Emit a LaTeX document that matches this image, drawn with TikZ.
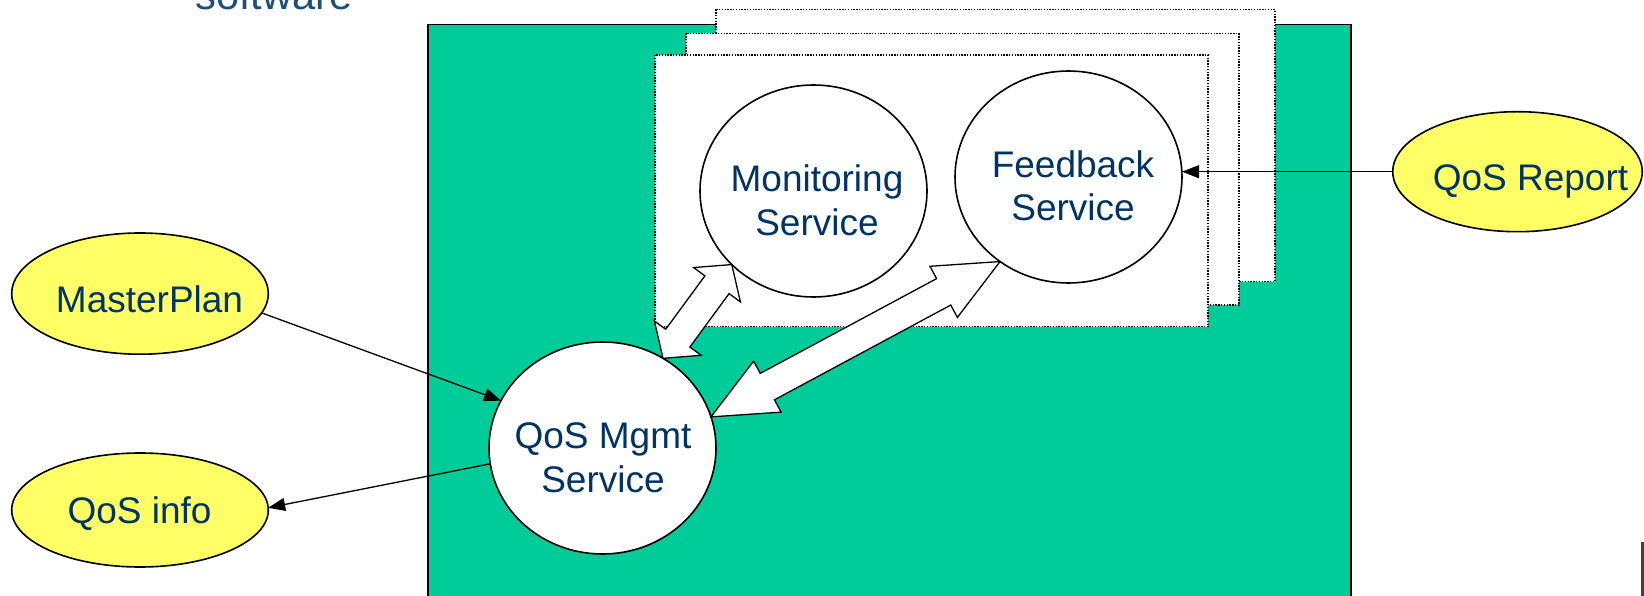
\documentclass[tikz,border=0pt]{standalone}
\usepackage{fontspec}
\setmainfont{Liberation Sans}
\usetikzlibrary{calc,arrows.meta,shapes.geometric}
\definecolor{bggreen}{HTML}{00CC99}
\definecolor{ylw}{HTML}{FFFF66}
\definecolor{navy}{HTML}{003366}
\definecolor{swblue}{HTML}{1F4E79}
\definecolor{markgray}{HTML}{404040}
\tikzset{
  svc/.style={ellipse,draw=black,line width=1.6pt,fill=white,minimum width=227pt,minimum height=212pt,inner sep=0pt,outer sep=0pt},
  ext/.style={ellipse,draw=black,line width=1.6pt,fill=ylw,inner sep=0pt,outer sep=0pt},
  lbl/.style={text=navy,font=\fontsize{37}{43.5}\selectfont,align=center,inner sep=0pt},
  sheet/.style={draw=black,fill=white,line width=1.2pt,dash pattern=on 1.4pt off 1.4pt},
  flow/.style={draw=black,line width=1.3pt,-{Triangle[length=17pt,width=13pt]}},
  dbl/.style={draw=black,fill=white,line width=1.3pt,line join=miter}
}
\newcommand\dblarrow[3]{%
  \coordinate (dA) at (#1);
  \coordinate (dB) at (#2);
  \coordinate (hA) at ($(dA)!#3!(dB)$);
  \coordinate (hB) at ($(dB)!#3!(dA)$);
  \draw[dbl] (dA) -- ($(hA)!29pt!90:(dB)$) -- ($(hA)!15pt!90:(dB)$)
    -- ($(hB)!15pt!-90:(dA)$) -- ($(hB)!29pt!-90:(dA)$) -- (dB)
    -- ($(hB)!29pt!90:(dA)$) -- ($(hB)!15pt!90:(dA)$)
    -- ($(hA)!15pt!-90:(dB)$) -- ($(hA)!29pt!-90:(dB)$) -- cycle;
}
\begin{document}
\begin{tikzpicture}[x=1pt,y=-1pt]
\useasboundingbox (0,0) rectangle (1644,596);
% title fragment
\node[text=swblue,font=\fontsize{41.6}{48}\selectfont,anchor=base west,inner sep=0pt] (sw) at (195,10) {software};
% green host
\path[fill=bggreen,draw=black,line width=1.5pt] (428,24.5) rectangle (1351,610);
% stacked sheets
\path[sheet] (716,9.5) rectangle (1275,281.5);
\path[sheet] (686,33.5) rectangle (1239,305);
\path[sheet] (655,55) rectangle (1208,326.5);
% services
\node[svc] (mon) at (813.5,191) {};
\node[lbl] (monl) at (817,200.5) {Monitoring\\Service};
\node[svc] (fb) at (1068.5,177) {};
\node[lbl] (fbl) at (1073,186) {Feedback\\Service};
\node[svc] (qos) at (602.5,448) {};
\node[lbl] (qosl) at (603,458) {QoS Mgmt\\Service};
% external ellipses
\node[ext,minimum width=256.6pt,minimum height=121.2pt] (mp) at (140,293.6) {};
\node[lbl,anchor=base] (mpl) at (149.5,312) {MasterPlan};
\node[ext,minimum width=256.6pt,minimum height=114pt] (info) at (140,510) {};
\node[lbl,anchor=base] (infol) at (139.5,523) {QoS info};
\node[ext,minimum width=249.5pt,minimum height=120pt] (rep) at (1517.5,171.7) {};
\node[lbl,anchor=base] (repl) at (1530.5,190.7) {QoS Report};
% connectors
\draw[flow] (rep.west) -- (rep.west -| fb.east);
\draw[flow] (mp.-9) -- (qos.155.7);
\draw[flow] (qos.188) -- (info.1.7);
\dblarrow{mon.222.2}{qos.56.2}{25pt}
\dblarrow{fb.231}{qos.16.7}{64pt}
% cut-off mark at the right edge
\fill[markgray] (1641,542) rectangle (1644,596);
\end{tikzpicture}
\end{document}
